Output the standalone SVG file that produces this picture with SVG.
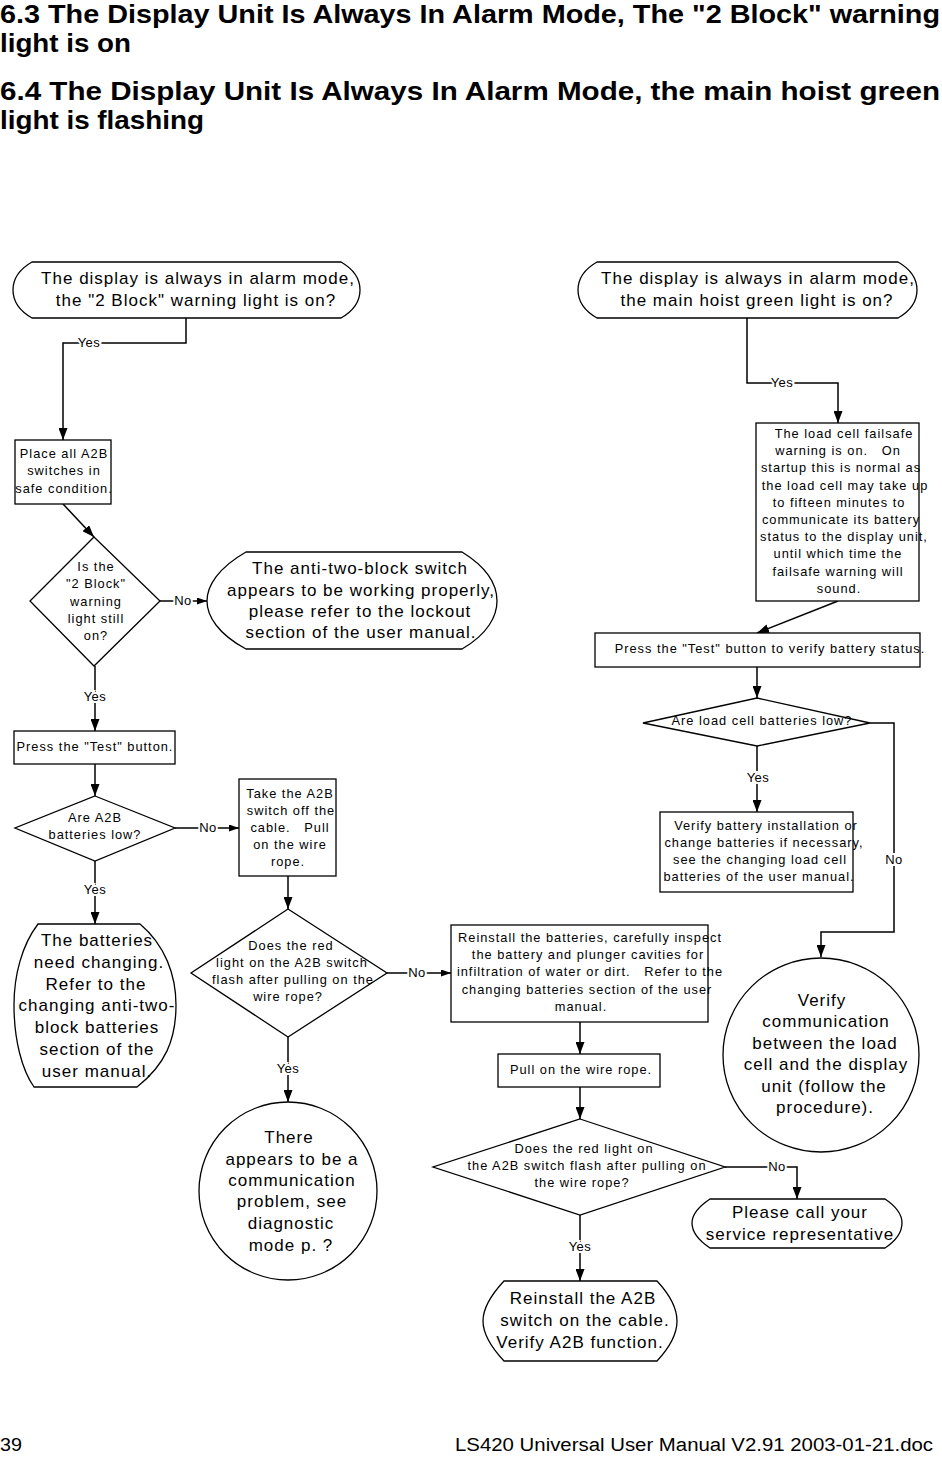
<svg xmlns="http://www.w3.org/2000/svg" width="942" height="1461" viewBox="0 0 942 1461">
<defs>
<marker id="arr" viewBox="0 0 12 9" refX="12" refY="4.5" markerWidth="12" markerHeight="9" orient="auto" markerUnits="userSpaceOnUse">
<path d="M0,0 L12,4.5 L0,9 z" fill="#000"/>
</marker>
<marker id="arrs" viewBox="0 0 10 7" refX="10" refY="3.5" markerWidth="10" markerHeight="7" orient="auto" markerUnits="userSpaceOnUse">
<path d="M0,0 L10,3.5 L0,7 z" fill="#000"/>
</marker>
</defs>
<style>
.shape{fill:#fff;stroke:#000;stroke-width:1.3}
.t13{font-family:"Liberation Sans",Arial,sans-serif;font-size:12.8px;letter-spacing:1px;text-anchor:middle;fill:#000;white-space:pre}
.t17{font-family:"Liberation Sans",Arial,sans-serif;font-size:17px;letter-spacing:1px;text-anchor:middle;fill:#000}
.conn{fill:none;stroke:#000;stroke-width:1.5}
.lbl{font-family:"Liberation Sans",Arial,sans-serif;font-size:13px;letter-spacing:0.5px;text-anchor:middle;fill:#000;stroke:#fff;stroke-width:4;paint-order:stroke}
.hdr{font-family:"Liberation Sans",Arial,sans-serif;font-size:26px;font-weight:bold;fill:#000}
.ftr{font-family:"Liberation Sans",Arial,sans-serif;font-size:18px;fill:#000}
</style>
<rect width="942" height="1461" fill="#fff"/>

<g id="header">
<text class="hdr" x="0" y="23" textLength="940" lengthAdjust="spacingAndGlyphs">6.3 The Display Unit Is Always In Alarm Mode, The "2 Block" warning</text>
<text class="hdr" x="0" y="52" textLength="131" lengthAdjust="spacingAndGlyphs">light is on</text>
<text class="hdr" x="0" y="100" textLength="940" lengthAdjust="spacingAndGlyphs">6.4 The Display Unit Is Always In Alarm Mode, the main hoist green</text>
<text class="hdr" x="0" y="129" textLength="204" lengthAdjust="spacingAndGlyphs">light is flashing</text>
</g>

<g id="connectors">
<path class="conn" d="M186,318 V343 H63 V440" marker-end="url(#arr)"/>
<path class="conn" d="M63,504 L94,537" marker-end="url(#arr)"/>
<path class="conn" d="M160,601 H207" marker-end="url(#arrs)"/>
<path class="conn" d="M95,666 V731" marker-end="url(#arr)"/>
<path class="conn" d="M95,764 V796" marker-end="url(#arr)"/>
<path class="conn" d="M175,828 H239" marker-end="url(#arrs)"/>
<path class="conn" d="M95,861 V924" marker-end="url(#arr)"/>
<path class="conn" d="M288,876 V909" marker-end="url(#arr)"/>
<path class="conn" d="M387,973 H451" marker-end="url(#arrs)"/>
<path class="conn" d="M288,1037 V1102" marker-end="url(#arr)"/>
<path class="conn" d="M580,1022 V1054" marker-end="url(#arr)"/>
<path class="conn" d="M580,1087 V1119" marker-end="url(#arr)"/>
<path class="conn" d="M725,1167 H797 V1199" marker-end="url(#arr)"/>
<path class="conn" d="M580,1215 V1281" marker-end="url(#arr)"/>
<path class="conn" d="M747,318 V383 H838 V423" marker-end="url(#arr)"/>
<path class="conn" d="M838,601 L757,633" marker-end="url(#arr)"/>
<path class="conn" d="M757,667 V698" marker-end="url(#arr)"/>
<path class="conn" d="M757,746 V812" marker-end="url(#arr)"/>
<path class="conn" d="M870,723 H894 V932 H821 V957" marker-end="url(#arr)"/>
<text class="lbl" x="89" y="347">Yes</text>
<text class="lbl" x="183" y="605">No</text>
<text class="lbl" x="95" y="701">Yes</text>
<text class="lbl" x="208" y="832">No</text>
<text class="lbl" x="95" y="894">Yes</text>
<text class="lbl" x="417" y="977">No</text>
<text class="lbl" x="288" y="1073">Yes</text>
<text class="lbl" x="777" y="1171">No</text>
<text class="lbl" x="580" y="1251">Yes</text>
<text class="lbl" x="782" y="387">Yes</text>
<text class="lbl" x="758" y="782">Yes</text>
<text class="lbl" x="894" y="864">No</text>
</g>

<g id="start-2block">
<path class="shape" d="M32,262 H341 C355,270 360,280 360,290 C360,300 355,310 341,318 H32 C18,310 13,300 13,290 C13,280 18,270 32,262 Z"/>
<text class="t17" x="198" y="284">The display is always in alarm mode,</text>
<text class="t17" x="196" y="306">the "2 Block" warning light is on?</text>
</g>

<g id="place-switches">
<rect class="shape" x="15" y="440" width="96" height="64"/>
<text class="t13" x="64" y="458">Place all A2B</text>
<text class="t13" x="64" y="475">switches in</text>
<text class="t13" x="64" y="493">safe condition.</text>
</g>

<g id="dec-still-on">
<path class="shape" d="M94,537 L160,601 L94,666 L30,601 Z"/>
<text class="t13" x="96" y="571">Is the</text>
<text class="t13" x="96" y="588">"2 Block"</text>
<text class="t13" x="96" y="606">warning</text>
<text class="t13" x="96" y="623">light still</text>
<text class="t13" x="96" y="640">on?</text>
</g>

<g id="end-working">
<path class="shape" d="M246,552 H462 C488,568 497,586 497,601 C497,616 488,634 462,649 H246 C218,634 207,616 207,601 C207,586 218,568 246,552 Z"/>
<text class="t17" x="360" y="574">The anti-two-block switch</text>
<text class="t17" x="361" y="596">appears to be working properly,</text>
<text class="t17" x="360" y="617">please refer to the lockout</text>
<text class="t17" x="361" y="638">section of the user manual.</text>
</g>

<g id="press-test">
<rect class="shape" x="14" y="731" width="161" height="33"/>
<text class="t13" x="95" y="751">Press the "Test" button.</text>
</g>

<g id="dec-a2b-low">
<path class="shape" d="M95,796 L175,828 L95,861 L15,828 Z"/>
<text class="t13" x="95" y="822">Are A2B</text>
<text class="t13" x="95" y="839">batteries low?</text>
</g>

<g id="take-off">
<rect class="shape" x="239" y="779" width="97" height="97"/>
<text class="t13" x="290" y="798">Take the A2B</text>
<text class="t13" x="291" y="815">switch off the</text>
<text class="t13" x="290" y="832" xml:space="preserve">cable.   Pull</text>
<text class="t13" x="290" y="849">on the wire</text>
<text class="t13" x="288" y="866">rope.</text>
</g>

<g id="end-batteries">
<path class="shape" d="M38,924 H140 C165,945 176,975 176,1005 C176,1040 165,1065 137,1087 H34 C22,1070 14,1040 14,1005 C14,975 22,945 38,924 Z"/>
<text class="t17" x="97" y="946">The batteries</text>
<text class="t17" x="99" y="968">need changing.</text>
<text class="t17" x="96" y="990">Refer to the</text>
<text class="t17" x="97" y="1011">changing anti-two-</text>
<text class="t17" x="97" y="1033">block batteries</text>
<text class="t17" x="97" y="1055">section of the</text>
<text class="t17" x="97" y="1077">user manual.</text>
</g>

<g id="dec-red-light">
<path class="shape" d="M288,909 L387,973 L288,1037 L191,973 Z"/>
<text class="t13" x="291" y="950">Does the red</text>
<text class="t13" x="292" y="967">light on the A2B switch</text>
<text class="t13" x="293" y="984">flash after pulling on the</text>
<text class="t13" x="288" y="1001">wire rope?</text>
</g>

<g id="end-communication">
<ellipse class="shape" cx="288" cy="1191" rx="89" ry="89"/>
<text class="t17" x="289" y="1143">There</text>
<text class="t17" x="292" y="1165">appears to be a</text>
<text class="t17" x="292" y="1186">communication</text>
<text class="t17" x="292" y="1207">problem, see</text>
<text class="t17" x="291" y="1229">diagnostic</text>
<text class="t17" x="291" y="1251">mode p. ?</text>
</g>

<g id="reinstall-batteries">
<rect class="shape" x="451" y="925" width="257" height="97"/>
<text class="t13" x="590" y="942">Reinstall the batteries, carefully inspect</text>
<text class="t13" x="588" y="959">the battery and plunger cavities for</text>
<text class="t13" x="590" y="976" xml:space="preserve">infiltration of water or dirt.   Refer to the</text>
<text class="t13" x="587" y="994">changing batteries section of the user</text>
<text class="t13" x="581" y="1011">manual.</text>
</g>

<g id="pull-rope">
<rect class="shape" x="498" y="1054" width="162" height="33"/>
<text class="t13" x="581" y="1074">Pull on the wire rope.</text>
</g>

<g id="dec-red-light-2">
<path class="shape" d="M580,1119 L725,1167 L580,1215 L433,1167 Z"/>
<text class="t13" x="584" y="1153">Does the red light on</text>
<text class="t13" x="587" y="1170">the A2B switch flash after pulling on</text>
<text class="t13" x="582" y="1187">the wire rope?</text>
</g>

<g id="end-call">
<path class="shape" d="M710,1199 H885 C897,1207 902,1215 902,1223 C902,1231 897,1240 885,1248 H710 C698,1240 692,1231 692,1223 C692,1215 698,1207 710,1199 Z"/>
<text class="t17" x="800" y="1218">Please call your</text>
<text class="t17" x="800" y="1240">service representative</text>
</g>

<g id="end-reinstall-a2b">
<path class="shape" d="M504,1281 H657 C671,1296 677,1308 677,1321 C677,1334 671,1346 657,1361 H504 C490,1346 483,1334 483,1321 C483,1308 490,1296 504,1281 Z"/>
<text class="t17" x="583" y="1304">Reinstall the A2B</text>
<text class="t17" x="585" y="1326">switch on the cable.</text>
<text class="t17" x="580" y="1348">Verify A2B function.</text>
</g>

<g id="start-hoist">
<path class="shape" d="M597,262 H898 C912,270 917,280 917,290 C917,300 912,310 898,318 H597 C583,310 578,300 578,290 C578,280 583,270 597,262 Z"/>
<text class="t17" x="758" y="284">The display is always in alarm mode,</text>
<text class="t17" x="757" y="306">the main hoist green light is on?</text>
</g>

<g id="load-cell-failsafe">
<rect class="shape" x="756" y="423" width="163" height="178"/>
<text class="t13" x="844" y="438">The load cell failsafe</text>
<text class="t13" x="838" y="455" xml:space="preserve">warning is on.   On</text>
<text class="t13" x="841" y="472">startup this is normal as</text>
<text class="t13" x="845" y="490">the load cell may take up</text>
<text class="t13" x="839" y="507">to fifteen minutes to</text>
<text class="t13" x="841" y="524">communicate its battery</text>
<text class="t13" x="844" y="541">status to the display unit,</text>
<text class="t13" x="838" y="558">until which time the</text>
<text class="t13" x="838" y="576">failsafe warning will</text>
<text class="t13" x="839" y="593">sound.</text>
</g>

<g id="press-test-verify">
<rect class="shape" x="595" y="633" width="325" height="34"/>
<text class="t13" x="770" y="653">Press the "Test" button to verify battery status.</text>
</g>

<g id="dec-loadcell-low">
<path class="shape" d="M757,698 L870,723 L757,746 L643,723 Z"/>
<text class="t13" x="762" y="725">Are load cell batteries low?</text>
</g>

<g id="verify-battery">
<rect class="shape" x="660" y="812" width="193" height="80"/>
<text class="t13" x="766" y="830">Verify battery installation or</text>
<text class="t13" x="764" y="847">change batteries if necessary,</text>
<text class="t13" x="760" y="864">see the changing load cell</text>
<text class="t13" x="759" y="881">batteries of the user manual.</text>
</g>

<g id="end-verify-comm">
<ellipse class="shape" cx="821" cy="1055" rx="98" ry="97"/>
<text class="t17" x="822" y="1006">Verify</text>
<text class="t17" x="826" y="1027">communication</text>
<text class="t17" x="825" y="1049">between the load</text>
<text class="t17" x="826" y="1070">cell and the display</text>
<text class="t17" x="824" y="1092">unit (follow the</text>
<text class="t17" x="825" y="1113">procedure).</text>
</g>

<g id="footer">
<text class="ftr" x="0" y="1451" textLength="22" lengthAdjust="spacingAndGlyphs">39</text>
<text class="ftr" x="455" y="1451" textLength="478" lengthAdjust="spacingAndGlyphs">LS420 Universal User Manual V2.91 2003-01-21.doc</text>
</g>
</svg>
